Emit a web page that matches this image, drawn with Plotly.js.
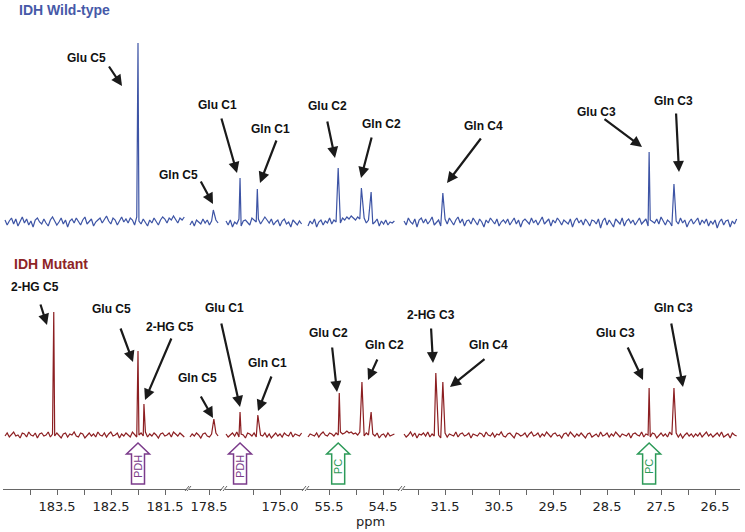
<!DOCTYPE html>
<html><head><meta charset="utf-8">
<script src="https://cdn.plot.ly/plotly-3.0.1.min.js"></script>
<style>html,body{margin:0;padding:0;background:#fff}#chart{width:745px;height:532px}</style>
</head><body><div id="chart"></div>
<script>
// ---------- DATA ----------
// spectrum sampling: first ppm of each displayed segment, sampling step (ppm)
const SEG_START = [184.463, 178.852, 176.0, 55.889, 32.259];
const STEP = 0.04;

// baseline noise (IDH wild-type), one array per segment
const TOP_S1 = [2,-3,1,4,-2,3,-4,0,5,-1,3,-3,1,-5,2,4,0,-2,3,-1,-4,2,5,1,-3,0,4,-2,2,-5,1,3,-1,4,0,-3,2,5,-2,1,3,-4,0,2,4,-1,3,6,1,-2,4,2,-3,1,5,0,3,-1,4,2,-3,5,1,-2,3,0,-4,2,-1,4,1,-3,2,5,3,-1,4,2,6,3,-1,4,2,5];
const TOP_S2 = [-3,1,-4,2,0,-2,3,-1,2,-3,1,4,2,-1];
const TOP_S3 = [1,-3,2,-5,0,-2,3,-4,1,2,-1,-3,4,2,0,3,-2,1,5,2,-1,3,-3,0,2,-4,1,3,-2,0,-5,2,-1,-3,1,-2];
const TOP_S4 = [-4,1,-2,3,-5,0,2,-3,1,-1,4,-2,2,0,3,-1,4,2,5,3,6,4,2,5,3,1,4,-1,2,5,-2,0,3,-4,1,-2,2,-3,0,-1,1];
const TOP_S5 = [1,-3,4,0,-2,3,-5,2,4,-1,3,-2,1,5,-3,0,2,-4,1,3,-2,4,0,-3,2,5,-1,3,-4,1,2,-2,4,1,-3,3,0,-5,2,-1,4,1,-2,3,-4,0,2,-1,3,-3,1,4,-2,2,-5,1,3,0,-2,4,-1,2,-3,1,5,-2,0,3,-4,2,-1,4,1,-3,2,0,-2,3,-5,1,4,-1,2,-3,3,0,-4,2,1,-2,3,-6,1,4,-3,2,-1,-5,3,0,-2,4,-4,1,3,-1,2,-3,0,4,-2,1,3,-4,2,0,-1,3,-2,5,1,-3,2,0,-4,3,1,-2,4,-1,2,-5,0,3,-2,1,4,-3,2,-1,3,-4,1,-2,2,-6,0,3,-3,1,2,-5,1,-2,3];

// baseline noise (IDH mutant)
const BOT_S1 = [-1,2,-2,1,3,-1,0,-3,2,1,-2,3,0,-1,2,-3,1,2,-1,0,3,-2,1,-1,2,0,-3,1,2,-2,1,0,3,-1,-2,2,1,-3,0,2,-1,1,-2,3,0,-1,2,-2,1,3,-1,0,2,-3,1,-1,2,0,-2,3,1,-2,0,2,-1,3,-2,1,-1,2,0,-3,1,2,-1,0,2,-2,3,1,-1,2,0,-2];
const BOT_S2 = [-2,1,-1,2,0,-3,1,2,-1,-2,1,0,2,-1];
const BOT_S3 = [1,-2,0,2,-1,3,-2,1,0,-3,2,1,-1,2,-2,3,0,-1,2,-2,1,-3,0,2,-1,1,-2,2,0,-1,3,-2,1,0,-1,2];
const BOT_S4 = [-2,1,0,-1,2,-2,1,3,0,-1,2,1,-1,2,0,3,1,2,4,2,3,1,2,0,3,1,-1,2,0,-2,1,-1,2,-3,0,1,-2,2,-1,0,1];
const BOT_S5 = [1,-2,0,3,-1,2,-3,1,0,2,-1,3,-2,1,-1,2,0,-3,1,2,-2,1,0,-1,3,-2,1,2,-1,0,2,-3,1,0,-1,2,1,-2,3,0,-1,2,-2,1,0,3,-1,-2,1,2,0,-3,2,1,-1,0,2,-2,1,3,-1,0,2,-2,1,-1,3,0,-2,1,2,-1,0,-3,1,2,-1,3,0,-2,1,-1,2,0,-3,1,2,-2,0,1,-2,3,-1,0,2,-2,1,-1,3,0,-2,1,0,-1,2,-3,1,2,0,-1,3,-2,1,0,-2,2,1,-3,0,2,-1,1,-2,3,0,-1,2,-2,1,-3,0,2,-1,1,-2,1,-1,2,-2,0,3,-1,1,-2,0,2,-1,3,-2,0,1,-3,2,0,-1];

// resonances (ppm) and peak intensities
const TOP_PEAK_PPM = [182.00, 178.42, 175.74, 175.42, 55.33, 54.90, 54.72, 31.54, 27.72, 27.26];
const TOP_PEAK_H   = [179, 12, 44, 33, 54, 34, 30, 29, 70, 38];
const BOT_PEAK_PPM = [183.56, 182.00, 181.89, 178.41, 175.74, 175.41, 55.31, 54.89, 54.72, 31.67, 31.54, 27.72, 27.26];
const BOT_PEAK_H   = [123, 84, 31, 16, 23, 20, 42, 53, 23, 62, 53, 47, 47];

// peak labels
const TOP_LABELS = ['Glu C5','Gln C5','Glu C1','Gln C1','Glu C2','Gln C2','Gln C4','Glu C3','Gln C3'];
const BOT_LABELS = ['2-HG C5','Glu C5','2-HG C5','Gln C5','Glu C1','Gln C1','Glu C2','Gln C2','2-HG C3','Gln C4','Glu C3','Gln C3'];

// axis ticks per segment
const TICK_VALS = [[184.0,183.5,183.0,182.5,182.0,181.5],[178.5],[175.5,175.0],[55.5,55.0,54.5],[32.0,31.5,31.0,30.5,30.0,29.5,29.0,28.5,28.0,27.5,27.0,26.5]];
const TICK_TEXT = [['','183.5','','182.5','','181.5'],['178.5'],['','175.0'],['55.5','','54.5'],['','31.5','','30.5','','29.5','','28.5','','27.5','','26.5']];

// flux markers: label, segment, ppm
const FLUX_LABELS = ['PDH','PDH','PC','PC'];
const FLUX_SEG = [0, 2, 3, 4];
const FLUX_PPM = [182.00, 175.74, 55.33, 27.72];

// ---------- LAYOUT CONSTANTS ----------
const W = 745, H = 532, ML = 3, MR = 5, MT = 0, MB = 43;
const PW = W - ML - MR, PH = H - MT - MB;
const px2x = p => (p - ML) / PW;
const py2y = p => (PH + MT - p) / PH;
const SEG_PX = [[3,187],[189,222],[225,304],[307,400],[403,740]];
const SEG_RANGE = [[184.5,181.0926],[178.8704,178.2593],[176.0185,174.5556],[55.9074,54.1852],[32.2778,26.0370]];

const BLUE = '#3d54a5', RED = '#8c1f22', PURPLE = '#7b3b8b', GREEN = '#2c9a58';

function buildSegment(noise, start, pX, pH) {
  const lo = start - (noise.length - 1) * STEP;
  const pts = [];
  for (let i = 0; i < noise.length; i++) {
    const x = start - i * STEP;
    if (pX.some(p => Math.abs(p - x) < 0.012)) continue;
    pts.push([x, noise[i]]);
  }
  pX.forEach((p, j) => { if (p <= start + 1e-9 && p >= lo - 1e-9) pts.push([p, pH[j]]); });
  pts.sort((a, b) => b[0] - a[0]);
  return pts;
}

const TOP_NOISE = [TOP_S1, TOP_S2, TOP_S3, TOP_S4, TOP_S5];
const BOT_NOISE = [BOT_S1, BOT_S2, BOT_S3, BOT_S4, BOT_S5];
const traces = [];
for (let s = 0; s < 5; s++) {
  const xa = s === 0 ? 'x' : 'x' + (s + 1);
  const t = buildSegment(TOP_NOISE[s], SEG_START[s], TOP_PEAK_PPM, TOP_PEAK_H);
  traces.push({type:'scatter', mode:'lines', x:t.map(p=>p[0]), y:t.map(p=>p[1]), xaxis:xa, yaxis:'y',
    line:{color:BLUE, width:1.2}, hoverinfo:'skip', showlegend:false});
  const b = buildSegment(BOT_NOISE[s], SEG_START[s], BOT_PEAK_PPM, BOT_PEAK_H);
  traces.push({type:'scatter', mode:'lines', x:b.map(p=>p[0]), y:b.map(p=>p[1]), xaxis:xa, yaxis:'y2',
    line:{color:RED, width:1.2}, hoverinfo:'skip', showlegend:false});
}

const layout = {
  width: W, height: H,
  margin: {l: ML, r: MR, t: MT, b: MB},
  paper_bgcolor: '#fff', plot_bgcolor: '#fff',
  showlegend: false,
  yaxis: {domain:[0.5,1], range:[-22.5,222], visible:false, fixedrange:true},
  yaxis2: {domain:[0,0.5], range:[-54,190.5], visible:false, fixedrange:true},
  annotations: [], shapes: []
};
for (let s = 0; s < 5; s++) {
  const key = s === 0 ? 'xaxis' : 'xaxis' + (s + 1);
  layout[key] = {
    domain: [px2x(SEG_PX[s][0]), px2x(SEG_PX[s][1])],
    range: SEG_RANGE[s], anchor: 'y2', fixedrange: true,
    showgrid: false, zeroline: false, showline: true, linecolor: '#666', linewidth: 1,
    ticks: 'outside', ticklen: 5, tickcolor: '#666', tickwidth: 1,
    tickmode: 'array', tickvals: TICK_VALS[s], ticktext: TICK_TEXT[s],
    tickfont: {family: 'DejaVu Sans', size: 13, color: '#222'}
  };
}

// axis break marks
[187,189,222,225,304,307,400,403].forEach(p => {
  layout.shapes.push({type:'line', xref:'paper', yref:'paper',
    x0:px2x(p-2), x1:px2x(p+2), y0:py2y(491), y1:py2y(486), line:{color:'#666', width:1}});
});

// panel titles
const FONT_B = 'Liberation Sans, Arial, sans-serif';
layout.annotations.push({text:'<b>IDH Wild-type</b>', xref:'paper', yref:'paper', x:px2x(17), y:py2y(10),
  xanchor:'left', yanchor:'middle', showarrow:false, font:{family:FONT_B, size:14, color:'#4659a8'}});
layout.annotations.push({text:'<b>IDH Mutant</b>', xref:'paper', yref:'paper', x:px2x(12), y:py2y(264),
  xanchor:'left', yanchor:'middle', showarrow:false, font:{family:FONT_B, size:14, color:'#8e2426'}});
layout.annotations.push({text:'ppm', xref:'paper', yref:'paper', x:px2x(370), y:py2y(521),
  xanchor:'center', yanchor:'middle', showarrow:false, font:{family:'DejaVu Sans', size:13, color:'#222'}});

// label positions & arrows (label centre, arrow tail, arrow head) in pixels
const TOP_POS = [
  [[86,58],[108,65],[122,86]],
  [[178,175],[200,180],[213,204]],
  [[217,105],[221,117],[237,173]],
  [[270,129],[277,139],[260,183]],
  [[327,106],[327,120],[335,158]],
  [[381,124],[372,136],[361,178]],
  [[483,126],[482,137],[447,183]],
  [[596,112],[603,118],[642,147]],
  [[673,101],[676,112],[679,172]]
];
const BOT_POS = [
  [[35,287],[40,303],[47,325]],
  [[111,309],[120,327],[133,362]],
  [[170,327],[172,337],[145,400]],
  [[197,378],[200,395],[213,418]],
  [[224,308],[221,322],[240,407]],
  [[267,363],[272,375],[258,411]],
  [[328,333],[332,346],[337,392]],
  [[384,345],[378,358],[368,380]],
  [[431,315],[431,327],[433,363]],
  [[488,345],[486,358],[450,387]],
  [[615,333],[627,346],[643,380]],
  [[673,308],[671,322],[683,387]]
];
function addLabels(labels, pos) {
  labels.forEach((t, i) => {
    const [lab, tail, head] = pos[i];
    layout.annotations.push({text:'<b>'+t+'</b>', xref:'paper', yref:'paper', x:px2x(lab[0]), y:py2y(lab[1]),
      xanchor:'center', yanchor:'middle', showarrow:false, font:{family:FONT_B, size:12, color:'#111'}});
    layout.annotations.push({text:'', xref:'paper', yref:'paper', x:px2x(head[0]), y:py2y(head[1]),
      ax: tail[0]-head[0], ay: tail[1]-head[1], showarrow:true, arrowhead:2, arrowsize:1, arrowwidth:2.2,
      arrowcolor:'#1a1a1a', standoff:0, startstandoff:0});
  });
}
addLabels(TOP_LABELS, TOP_POS);
addLabels(BOT_LABELS, BOT_POS);

// flux arrows (hollow up-arrows)
const ARROW_PATH = 'M -6.5 0 L 6.5 0 L 6.5 30 L 11.5 30 L 0 41 L -11.5 30 L -6.5 30 Z';
FLUX_LABELS.forEach((t, i) => {
  const xa = FLUX_SEG[i] === 0 ? 'x' : 'x' + (FLUX_SEG[i] + 1);
  const col = t === 'PDH' ? PURPLE : GREEN;
  layout.shapes.push({type:'path', xref:xa, yref:'paper', xsizemode:'pixel', ysizemode:'pixel',
    xanchor:FLUX_PPM[i], yanchor:py2y(484), path:ARROW_PATH, line:{color:col, width:1.5}, fillcolor:'rgba(0,0,0,0)'});
  layout.annotations.push({text:t, xref:xa, yref:'paper', x:FLUX_PPM[i], y:py2y(467), textangle:-90,
    xanchor:'center', yanchor:'middle', showarrow:false, font:{family:'Liberation Sans, Arial', size:11, color:col}});
});

Plotly.newPlot('chart', traces, layout, {displayModeBar:false, staticPlot:true});
</script>
</body></html>
